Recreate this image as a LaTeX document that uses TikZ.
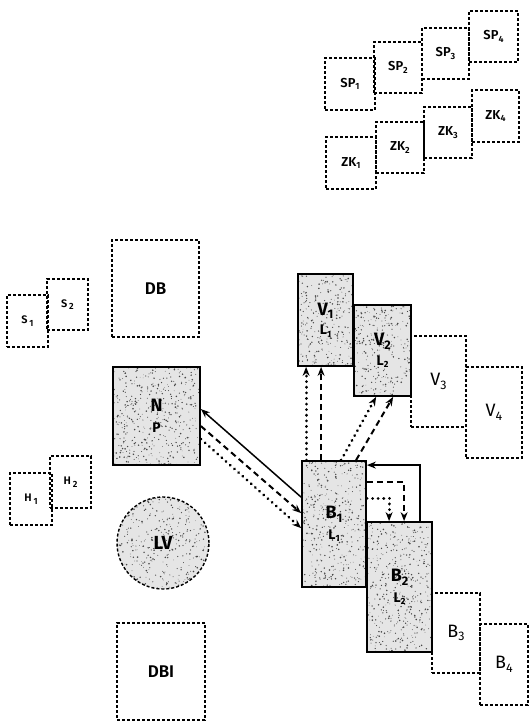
\documentclass[tikz,border=0pt]{standalone}
\usepackage{fontspec}
\setmainfont{Fira Sans}
\newfontfamily\semib{Fira Sans SemiBold}
\usetikzlibrary{arrows.meta,calc}
\tikzset{
  dbox/.style={draw, line width=1.4bp, dash pattern=on 3bp off 2bp, rectangle, inner sep=0pt},
  sbox/.style={draw, line width=1.8bp, rectangle, inner sep=0pt},
  tiny/.style={font=\semib\fontsize{13}{14}\selectfont},
  small/.style={font=\semib\fontsize{11}{12}\selectfont},
  mid/.style={font=\fontsize{18}{19}\selectfont},
  midb/.style={font=\semib\fontsize{17}{18}\selectfont},
  big/.style={font=\bfseries\fontsize{18}{18}\selectfont},
  tip/.style={-{Stealth[length=9bp,width=7bp]}},
  solidarr/.style={tip, line width=1.5bp},
  dasharr/.style={tip, line width=2bp, dash pattern=on 6bp off 4bp},
  dotarr/.style={tip, line width=3bp, line cap=round, dash pattern=on 0.1bp off 5.5bp},
}
\newcommand{\sbx}[1]{\raisebox{-2.5bp}{\fontsize{9}{9}\selectfont #1}}
\newcommand{\sbm}[1]{\raisebox{-3.5bp}{\fontsize{12.5}{12.5}\selectfont #1}}
\newcommand{\bx}[7]{\node[#6, minimum width={(#4-#2)*1bp}, minimum height={(#5-#3)*1bp}, align=center] (#1) at ({(#2+#4)/2},{(#3+#5)/2}) {#7};}
\newcommand{\speckarea}[5]{%
  \foreach \k in {1,...,#5}{%
    \pgfmathsetmacro{\sx}{#1+rnd*(#3-#1)}%
    \pgfmathsetmacro{\sy}{#2+rnd*(#4-#2)}%
    \pgfmathsetmacro{\sr}{0.3+0.6*rnd}%
    \fill[black!72] (\sx,\sy) circle[radius=\sr pt];
  }}
\newcommand{\texbox}[5]{%
  \fill[black!10] (#1,#2) rectangle (#3,#4);
  \speckarea{#1}{#2}{#3}{#4}{#5}}
\begin{document}
\begin{tikzpicture}[x=1bp,y=-1bp]
\useasboundingbox (0,0) rectangle (529,722);
\pgfmathsetseed{7}
% textures
\texbox{113}{367}{200}{465}{450}
\texbox{298}{274}{353}{366}{270}
\texbox{354}{305}{411}{396}{270}
\texbox{302}{461}{366}{587}{420}
\texbox{367}{522}{432}{652}{440}
\begin{scope}
  \clip (163,543) circle[radius=46bp];
  \fill[black!10] (117,497) rectangle (209,589);
  \speckarea{117}{497}{209}{589}{380}
\end{scope}
% dashed boxes top right
\bx{SP1}{325}{58}{375}{110}{dbox,tiny}{SP\sbx{1}}
\bx{SP2}{374}{42}{422}{93}{dbox,tiny}{SP\sbx{2}}
\bx{SP3}{422}{28}{469}{79}{dbox,tiny}{SP\sbx{3}}
\bx{SP4}{469}{11}{518}{62}{dbox,tiny}{SP\sbx{4}}
\bx{ZK1}{326}{137}{376}{189}{dbox,tiny}{ZK\sbx{1}}
\bx{ZK2}{376}{122}{424}{173}{dbox,tiny}{ZK\sbx{2}}
\bx{ZK3}{424}{107}{472}{158}{dbox,tiny}{ZK\sbx{3}}
\bx{ZK4}{472}{90}{519}{142}{dbox,tiny}{ZK\sbx{4}}
% left
\bx{S1}{7}{295}{48}{347}{dbox,small}{S\,\sbx{1}}
\bx{S2}{47}{279}{88}{330}{dbox,small}{S\,\sbx{2}}
\bx{H1}{10}{473}{52}{525}{dbox,small}{H\,\sbx{1}}
\bx{H2}{50}{456}{91}{508}{dbox,small}{H\,\sbx{2}}
\bx{DB}{112}{240}{199}{337}{dbox,midb}{DB}
\bx{DBI}{117}{623}{205}{720}{dbox,midb}{DBI}
\bx{N}{113}{367}{200}{465}{sbox,big}{N\\[3bp]{\fontsize{14}{14}\selectfont P}}
\node[draw, circle, line width=1.4bp, dash pattern=on 3bp off 2bp, minimum size=92bp, inner sep=0pt, font=\bfseries\fontsize{19}{19}\selectfont] (LV) at (163,543) {LV};
% V row
\bx{V1}{298}{274}{353}{366}{sbox,big}{V\sbm{1}\\[2bp]{\fontsize{14}{14}\selectfont L\sbx{1}}}
\bx{V2}{354}{305}{411}{396}{sbox,big}{V\sbm{2}\\[2bp]{\fontsize{14}{14}\selectfont L\sbx{2}}}
\bx{V3}{411}{336}{466}{427}{dbox,mid}{V\sbm{3}}
\bx{V4}{466}{367}{522}{458}{dbox,mid}{V\sbm{4}}
% B row
\bx{B1}{302}{461}{366}{587}{sbox,big}{B\sbm{1}\\[3bp]{\fontsize{14}{14}\selectfont L\sbx{1}}}
\bx{B2}{367}{522}{432}{652}{sbox,big}{B\sbm{2}\\[3bp]{\fontsize{14}{14}\selectfont L\sbx{2}}}
\bx{B3}{432}{593}{480}{673}{dbox,mid}{B\sbm{3}}
\bx{B4}{480}{624}{528}{705}{dbox,mid}{B\sbm{4}}
% arrows N <-> B1
\draw[solidarr] ([yshift=-37bp]B1.north west) -- ([yshift=-43bp]N.north east);
\draw[dasharr] ([yshift=-60bp]N.north east) -- ([yshift=-53bp]B1.north west);
\draw[dotarr] ([yshift=-73bp]N.north east) -- ([yshift=-68bp]B1.north west);
% B1 -> V1
\draw[dotarr] ([xshift=5bp]B1.north west) -- ([xshift=5bp]B1.north west |- V1.south);
\draw[dasharr] ([xshift=20bp]B1.north west) -- ([xshift=20bp]B1.north west |- V1.south);
% B1 -> V2
\draw[dotarr] ([xshift=40bp]B1.north west) -- ([xshift=23bp]V2.south west);
\draw[dasharr] ([xshift=55bp]B1.north west) -- ([xshift=40bp]V2.south west);
% B1 <-> B2
\draw[solidarr] ([xshift=54bp]B2.north west) |- ([yshift=-5bp]B1.north east);
\draw[dasharr] ([yshift=-22bp]B1.north east) -| ([xshift=38bp]B2.north west);
\draw[dotarr] ([yshift=-38bp]B1.north east) -| ([xshift=23bp]B2.north west);
\end{tikzpicture}
\end{document}
